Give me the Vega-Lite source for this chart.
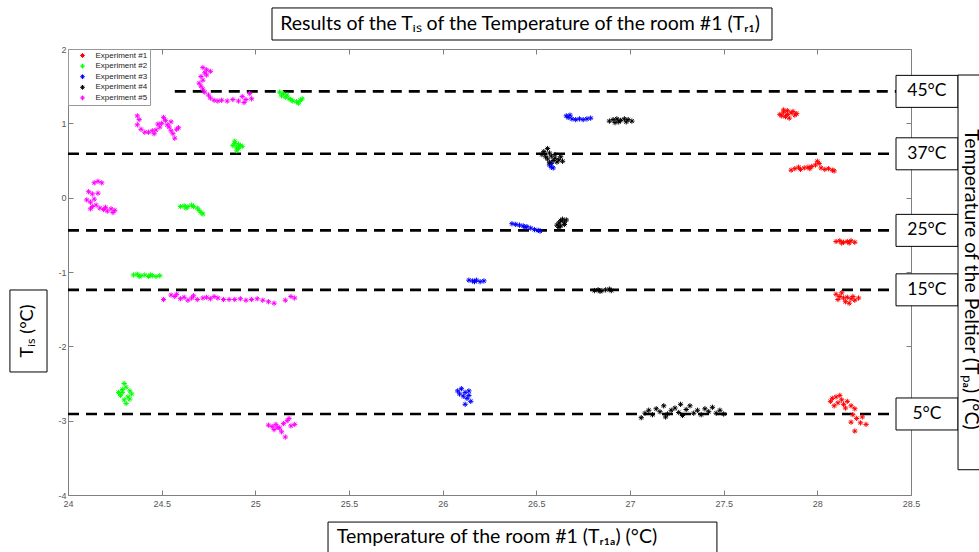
{
"$schema": "https://vega.github.io/schema/vega-lite/v6.json",
"autosize": "none",
"width": 843,
"height": 446,
"padding": {"left": 68, "top": 49, "right": 68, "bottom": 57},
"background": "white",
"config": {
  "view": {"stroke": null},
  "axis": {"domainColor": "#808080", "tickColor": "#808080", "labelColor": "#555555", "labelFont": "Liberation Sans", "labelFontSize": 9, "grid": false, "tickSize": -5, "domainWidth": 1, "tickWidth": 1, "title": null}
},
"datasets": {
  "points": [
    {"t":27.80,"v":1.12,"e":1},{"t":27.82,"v":1.15,"e":1},{"t":27.84,"v":1.17,"e":1},{"t":27.86,"v":1.14,"e":1},{"t":27.88,"v":1.11,"e":1},{"t":27.83,"v":1.09,"e":1},{"t":27.85,"v":1.07,"e":1},{"t":27.81,"v":1.10,"e":1},{"t":27.87,"v":1.16,"e":1},{"t":27.84,"v":1.12,"e":1},{"t":27.89,"v":1.13,"e":1},{"t":27.82,"v":1.18,"e":1},
    {"t":27.86,"v":0.37,"e":1},{"t":27.88,"v":0.39,"e":1},{"t":27.91,"v":0.38,"e":1},{"t":27.93,"v":0.40,"e":1},{"t":27.95,"v":0.41,"e":1},{"t":27.97,"v":0.42,"e":1},{"t":27.99,"v":0.44,"e":1},{"t":28.00,"v":0.49,"e":1},{"t":28.01,"v":0.46,"e":1},{"t":28.02,"v":0.40,"e":1},{"t":28.04,"v":0.38,"e":1},{"t":28.06,"v":0.39,"e":1},{"t":28.08,"v":0.37,"e":1},{"t":28.09,"v":0.36,"e":1},{"t":27.90,"v":0.41,"e":1},{"t":27.96,"v":0.39,"e":1},
    {"t":28.10,"v":-0.59,"e":1},{"t":28.12,"v":-0.58,"e":1},{"t":28.14,"v":-0.60,"e":1},{"t":28.16,"v":-0.59,"e":1},{"t":28.18,"v":-0.58,"e":1},{"t":28.20,"v":-0.60,"e":1},{"t":28.13,"v":-0.61,"e":1},{"t":28.17,"v":-0.61,"e":1},
    {"t":28.10,"v":-1.30,"e":1},{"t":28.12,"v":-1.33,"e":1},{"t":28.14,"v":-1.35,"e":1},{"t":28.11,"v":-1.37,"e":1},{"t":28.16,"v":-1.34,"e":1},{"t":28.18,"v":-1.36,"e":1},{"t":28.20,"v":-1.38,"e":1},{"t":28.15,"v":-1.40,"e":1},{"t":28.19,"v":-1.33,"e":1},{"t":28.22,"v":-1.35,"e":1},{"t":28.17,"v":-1.42,"e":1},{"t":28.13,"v":-1.28,"e":1},
    {"t":28.07,"v":-2.74,"e":1},{"t":28.08,"v":-2.70,"e":1},{"t":28.10,"v":-2.68,"e":1},{"t":28.11,"v":-2.76,"e":1},{"t":28.13,"v":-2.72,"e":1},{"t":28.09,"v":-2.80,"e":1},{"t":28.14,"v":-2.78,"e":1},{"t":28.16,"v":-2.74,"e":1},{"t":28.18,"v":-2.80,"e":1},{"t":28.12,"v":-2.66,"e":1},{"t":28.20,"v":-2.84,"e":1},{"t":28.15,"v":-2.83,"e":1},
    {"t":28.19,"v":-2.92,"e":1},{"t":28.21,"v":-2.97,"e":1},{"t":28.23,"v":-3.03,"e":1},{"t":28.20,"v":-3.14,"e":1},{"t":28.24,"v":-2.95,"e":1},{"t":28.18,"v":-3.02,"e":1},{"t":28.26,"v":-3.05,"e":1},

    {"t":24.27,"v":-2.62,"e":2},{"t":24.29,"v":-2.58,"e":2},{"t":24.31,"v":-2.55,"e":2},{"t":24.30,"v":-2.50,"e":2},{"t":24.33,"v":-2.60,"e":2},{"t":24.28,"v":-2.66,"e":2},{"t":24.32,"v":-2.68,"e":2},{"t":24.34,"v":-2.64,"e":2},{"t":24.30,"v":-2.72,"e":2},{"t":24.31,"v":-2.77,"e":2},{"t":24.33,"v":-2.71,"e":2},{"t":24.29,"v":-2.62,"e":2},
    {"t":24.35,"v":-1.04,"e":2},{"t":24.37,"v":-1.03,"e":2},{"t":24.39,"v":-1.05,"e":2},{"t":24.41,"v":-1.04,"e":2},{"t":24.43,"v":-1.06,"e":2},{"t":24.45,"v":-1.05,"e":2},{"t":24.47,"v":-1.06,"e":2},{"t":24.49,"v":-1.05,"e":2},{"t":24.38,"v":-1.06,"e":2},{"t":24.44,"v":-1.04,"e":2},
    {"t":24.60,"v":-0.12,"e":2},{"t":24.62,"v":-0.11,"e":2},{"t":24.64,"v":-0.12,"e":2},{"t":24.66,"v":-0.10,"e":2},{"t":24.67,"v":-0.12,"e":2},{"t":24.69,"v":-0.14,"e":2},{"t":24.70,"v":-0.17,"e":2},{"t":24.71,"v":-0.20,"e":2},{"t":24.72,"v":-0.22,"e":2},{"t":24.63,"v":-0.14,"e":2},
    {"t":24.88,"v":0.70,"e":2},{"t":24.89,"v":0.73,"e":2},{"t":24.90,"v":0.68,"e":2},{"t":24.91,"v":0.66,"e":2},{"t":24.92,"v":0.70,"e":2},{"t":24.90,"v":0.63,"e":2},{"t":24.93,"v":0.69,"e":2},{"t":24.89,"v":0.76,"e":2},{"t":24.91,"v":0.72,"e":2},
    {"t":25.13,"v":1.42,"e":2},{"t":25.15,"v":1.40,"e":2},{"t":25.14,"v":1.37,"e":2},{"t":25.16,"v":1.35,"e":2},{"t":25.18,"v":1.33,"e":2},{"t":25.17,"v":1.38,"e":2},{"t":25.20,"v":1.30,"e":2},{"t":25.22,"v":1.29,"e":2},{"t":25.24,"v":1.31,"e":2},{"t":25.25,"v":1.33,"e":2},{"t":25.23,"v":1.27,"e":2},{"t":25.19,"v":1.32,"e":2},

    {"t":26.08,"v":-2.60,"e":3},{"t":26.10,"v":-2.57,"e":3},{"t":26.12,"v":-2.62,"e":3},{"t":26.14,"v":-2.60,"e":3},{"t":26.11,"v":-2.67,"e":3},{"t":26.13,"v":-2.70,"e":3},{"t":26.15,"v":-2.74,"e":3},{"t":26.12,"v":-2.78,"e":3},{"t":26.09,"v":-2.64,"e":3},{"t":26.14,"v":-2.66,"e":3},
    {"t":26.14,"v":-1.11,"e":3},{"t":26.16,"v":-1.12,"e":3},{"t":26.18,"v":-1.11,"e":3},{"t":26.20,"v":-1.13,"e":3},{"t":26.22,"v":-1.12,"e":3},{"t":26.17,"v":-1.13,"e":3},
    {"t":26.37,"v":-0.35,"e":3},{"t":26.39,"v":-0.36,"e":3},{"t":26.41,"v":-0.37,"e":3},{"t":26.43,"v":-0.38,"e":3},{"t":26.45,"v":-0.39,"e":3},{"t":26.47,"v":-0.41,"e":3},{"t":26.49,"v":-0.43,"e":3},{"t":26.51,"v":-0.44,"e":3},{"t":26.52,"v":-0.45,"e":3},{"t":26.44,"v":-0.40,"e":3},
    {"t":26.57,"v":0.44,"e":3},{"t":26.58,"v":0.41,"e":3},{"t":26.59,"v":0.40,"e":3},{"t":26.58,"v":0.46,"e":3},
    {"t":26.66,"v":1.10,"e":3},{"t":26.67,"v":1.08,"e":3},{"t":26.69,"v":1.06,"e":3},{"t":26.71,"v":1.05,"e":3},{"t":26.73,"v":1.06,"e":3},{"t":26.75,"v":1.05,"e":3},{"t":26.77,"v":1.06,"e":3},{"t":26.79,"v":1.07,"e":3},{"t":26.68,"v":1.11,"e":3},

    {"t":27.06,"v":-2.96,"e":4},{"t":27.08,"v":-2.90,"e":4},{"t":27.10,"v":-2.86,"e":4},{"t":27.12,"v":-2.92,"e":4},{"t":27.14,"v":-2.84,"e":4},{"t":27.16,"v":-2.88,"e":4},{"t":27.18,"v":-2.80,"e":4},{"t":27.20,"v":-2.91,"e":4},{"t":27.22,"v":-2.86,"e":4},{"t":27.24,"v":-2.83,"e":4},{"t":27.26,"v":-2.89,"e":4},{"t":27.28,"v":-2.93,"e":4},{"t":27.30,"v":-2.85,"e":4},{"t":27.32,"v":-2.80,"e":4},{"t":27.34,"v":-2.90,"e":4},{"t":27.36,"v":-2.86,"e":4},{"t":27.38,"v":-2.92,"e":4},{"t":27.40,"v":-2.84,"e":4},{"t":27.42,"v":-2.88,"e":4},{"t":27.44,"v":-2.82,"e":4},{"t":27.46,"v":-2.90,"e":4},{"t":27.48,"v":-2.86,"e":4},{"t":27.50,"v":-2.91,"e":4},{"t":27.19,"v":-2.95,"e":4},{"t":27.27,"v":-2.78,"e":4},
    {"t":26.81,"v":-1.25,"e":4},{"t":26.83,"v":-1.24,"e":4},{"t":26.85,"v":-1.25,"e":4},{"t":26.87,"v":-1.24,"e":4},{"t":26.89,"v":-1.23,"e":4},{"t":26.90,"v":-1.25,"e":4},{"t":26.84,"v":-1.26,"e":4},
    {"t":26.61,"v":-0.37,"e":4},{"t":26.62,"v":-0.34,"e":4},{"t":26.63,"v":-0.31,"e":4},{"t":26.64,"v":-0.29,"e":4},{"t":26.65,"v":-0.33,"e":4},{"t":26.66,"v":-0.30,"e":4},{"t":26.63,"v":-0.38,"e":4},{"t":26.62,"v":-0.40,"e":4},{"t":26.65,"v":-0.36,"e":4},
    {"t":26.53,"v":0.58,"e":4},{"t":26.54,"v":0.62,"e":4},{"t":26.55,"v":0.55,"e":4},{"t":26.56,"v":0.52,"e":4},{"t":26.57,"v":0.60,"e":4},{"t":26.58,"v":0.56,"e":4},{"t":26.59,"v":0.50,"e":4},{"t":26.60,"v":0.53,"e":4},{"t":26.61,"v":0.48,"e":4},{"t":26.62,"v":0.51,"e":4},{"t":26.63,"v":0.55,"e":4},{"t":26.64,"v":0.49,"e":4},{"t":26.57,"v":0.47,"e":4},{"t":26.56,"v":0.66,"e":4},{"t":26.60,"v":0.58,"e":4},
    {"t":26.89,"v":1.03,"e":4},{"t":26.91,"v":1.05,"e":4},{"t":26.93,"v":1.06,"e":4},{"t":26.95,"v":1.04,"e":4},{"t":26.97,"v":1.06,"e":4},{"t":26.99,"v":1.05,"e":4},{"t":27.01,"v":1.03,"e":4},{"t":26.94,"v":1.02,"e":4},{"t":26.98,"v":1.02,"e":4},{"t":26.92,"v":1.01,"e":4},

    {"t":24.14,"v":0.20,"e":5},{"t":24.16,"v":0.22,"e":5},{"t":24.18,"v":0.20,"e":5},{"t":24.11,"v":0.08,"e":5},{"t":24.13,"v":0.05,"e":5},{"t":24.10,"v":-0.03,"e":5},{"t":24.12,"v":-0.06,"e":5},{"t":24.14,"v":-0.02,"e":5},{"t":24.15,"v":-0.10,"e":5},{"t":24.13,"v":-0.12,"e":5},{"t":24.17,"v":-0.14,"e":5},{"t":24.19,"v":-0.16,"e":5},{"t":24.21,"v":-0.18,"e":5},{"t":24.23,"v":-0.15,"e":5},{"t":24.25,"v":-0.17,"e":5},{"t":24.20,"v":-0.13,"e":5},{"t":24.16,"v":0.06,"e":5},{"t":24.12,"v":-0.15,"e":5},{"t":24.24,"v":-0.20,"e":5},
    {"t":24.37,"v":1.10,"e":5},{"t":24.38,"v":1.05,"e":5},{"t":24.37,"v":0.98,"e":5},{"t":24.39,"v":0.92,"e":5},{"t":24.41,"v":0.88,"e":5},{"t":24.43,"v":0.88,"e":5},{"t":24.45,"v":0.90,"e":5},{"t":24.47,"v":0.91,"e":5},{"t":24.49,"v":0.95,"e":5},{"t":24.50,"v":1.00,"e":5},{"t":24.52,"v":1.04,"e":5},{"t":24.53,"v":0.98,"e":5},{"t":24.54,"v":0.95,"e":5},{"t":24.55,"v":0.90,"e":5},{"t":24.56,"v":0.86,"e":5},{"t":24.57,"v":0.80,"e":5},{"t":24.58,"v":0.92,"e":5},{"t":24.51,"v":1.08,"e":5},{"t":24.48,"v":0.99,"e":5},{"t":24.55,"v":1.02,"e":5},{"t":24.59,"v":0.94,"e":5},{"t":24.46,"v":0.86,"e":5},
    {"t":24.72,"v":1.75,"e":5},{"t":24.74,"v":1.72,"e":5},{"t":24.73,"v":1.68,"e":5},{"t":24.71,"v":1.63,"e":5},{"t":24.72,"v":1.58,"e":5},{"t":24.70,"v":1.54,"e":5},{"t":24.71,"v":1.50,"e":5},{"t":24.72,"v":1.46,"e":5},{"t":24.73,"v":1.42,"e":5},{"t":24.75,"v":1.38,"e":5},{"t":24.74,"v":1.65,"e":5},{"t":24.76,"v":1.70,"e":5},
    {"t":24.76,"v":1.34,"e":5},{"t":24.78,"v":1.31,"e":5},{"t":24.80,"v":1.30,"e":5},{"t":24.82,"v":1.31,"e":5},{"t":24.85,"v":1.30,"e":5},{"t":24.88,"v":1.32,"e":5},{"t":24.91,"v":1.30,"e":5},{"t":24.93,"v":1.36,"e":5},{"t":24.95,"v":1.32,"e":5},{"t":24.97,"v":1.40,"e":5},{"t":24.98,"v":1.33,"e":5},{"t":24.94,"v":1.28,"e":5},
    {"t":24.51,"v":-1.37,"e":5},{"t":24.55,"v":-1.31,"e":5},{"t":24.57,"v":-1.33,"e":5},{"t":24.60,"v":-1.36,"e":5},{"t":24.62,"v":-1.34,"e":5},{"t":24.64,"v":-1.38,"e":5},{"t":24.66,"v":-1.35,"e":5},{"t":24.69,"v":-1.37,"e":5},{"t":24.72,"v":-1.35,"e":5},{"t":24.74,"v":-1.34,"e":5},{"t":24.76,"v":-1.36,"e":5},{"t":24.78,"v":-1.33,"e":5},{"t":24.80,"v":-1.35,"e":5},{"t":24.83,"v":-1.37,"e":5},{"t":24.86,"v":-1.37,"e":5},{"t":24.89,"v":-1.37,"e":5},{"t":24.92,"v":-1.36,"e":5},{"t":24.95,"v":-1.38,"e":5},{"t":24.98,"v":-1.37,"e":5},{"t":25.01,"v":-1.36,"e":5},{"t":25.04,"v":-1.38,"e":5},{"t":25.07,"v":-1.40,"e":5},{"t":25.10,"v":-1.42,"e":5},{"t":25.16,"v":-1.38,"e":5},{"t":25.19,"v":-1.33,"e":5},{"t":25.21,"v":-1.35,"e":5},{"t":24.58,"v":-1.30,"e":5},{"t":24.67,"v":-1.32,"e":5},
    {"t":25.07,"v":-3.06,"e":5},{"t":25.09,"v":-3.08,"e":5},{"t":25.11,"v":-3.05,"e":5},{"t":25.13,"v":-3.10,"e":5},{"t":25.15,"v":-3.04,"e":5},{"t":25.17,"v":-3.00,"e":5},{"t":25.19,"v":-3.07,"e":5},{"t":25.21,"v":-3.05,"e":5},{"t":25.10,"v":-3.12,"e":5},{"t":25.14,"v":-3.15,"e":5},{"t":25.16,"v":-3.22,"e":5},{"t":25.12,"v":-3.09,"e":5},{"t":25.18,"v":-2.97,"e":5}
  ],
  "lines": [
    {"v": 1.43, "start": 24.57, "label": "45°C"},
    {"v": 0.59, "start": 24, "label": "37°C"},
    {"v": -0.44, "start": 24, "label": "25°C"},
    {"v": -1.24, "start": 24, "label": "15°C"},
    {"v": -2.91, "start": 24, "label": "5°C"}
  ]
},
"layer": [
  {
    "data": {"name": "lines"},
    "mark": {"type": "rule", "strokeDash": [11, 7], "strokeWidth": 2.6, "color": "black"},
    "encoding": {
      "x": {"field": "start", "type": "quantitative", "scale": {"domain": [24, 28.5], "nice": false, "zero": false},
            "axis": {"orient": "top", "labels": false, "domain": true, "values": [24, 24.5, 25, 25.5, 26, 26.5, 27, 27.5, 28, 28.5]}},
      "x2": {"datum": 28.42},
      "y": {"field": "v", "type": "quantitative", "scale": {"domain": [-4, 2], "nice": false, "zero": false},
            "axis": {"orient": "right", "labels": false, "values": [-4, -3, -2, -1, 0, 1, 2]}}
    }
  },
  {
    "data": {"name": "points"},
    "mark": {"type": "point", "shape": "M-1,0L1,0M0,-1L0,1M-0.7,-0.7L0.7,0.7M-0.7,0.7L0.7,-0.7", "filled": false, "size": 28, "strokeWidth": 1, "opacity": 1},
    "encoding": {
      "x": {"field": "t", "type": "quantitative", "scale": {"domain": [24, 28.5], "nice": false, "zero": false},
            "axis": {"orient": "bottom", "values": [24, 24.5, 25, 25.5, 26, 26.5, 27, 27.5, 28, 28.5], "labelExpr": "datum.value", "labelPadding": 9, "labelFlush": false}},
      "y": {"field": "v", "type": "quantitative", "scale": {"domain": [-4, 2], "nice": false, "zero": false},
            "axis": {"orient": "left", "values": [-4, -3, -2, -1, 0, 1, 2], "labelExpr": "datum.value", "labelPadding": 7, "labelFlush": false}},
      "color": {"field": "e", "type": "nominal",
                "scale": {"domain": [1, 2, 3, 4, 5], "range": ["#ff0000", "#00ff00", "#0000ff", "#000000", "#ff00ff"]},
                "legend": {"orient": "top-left", "offset": 0, "title": null, "labelExpr": "'Experiment #' + datum.label",
                           "labelFont": "Liberation Sans", "labelFontSize": 8, "labelColor": "#222222",
                           "symbolSize": 22, "symbolStrokeWidth": 1, "symbolOffset": 8, "labelOffset": 9, "rowPadding": 0.6,
                           "padding": 2.5, "strokeColor": "#999999", "fillColor": "white", "cornerRadius": 0}}
    }
  },
  {
    "data": {"name": "lines"},
    "mark": {"type": "rect", "fill": "white", "stroke": "black", "strokeWidth": 1, "yOffset": -16, "y2Offset": 16},
    "encoding": {
      "x": {"datum": 28.42, "type": "quantitative", "axis": null},
      "x2": {"datum": 28.751},
      "y": {"field": "v", "type": "quantitative", "axis": null},
      "y2": {"field": "v"}
    }
  },
  {
    "data": {"name": "lines"},
    "mark": {"type": "text", "font": "Lato", "fontSize": 17.5, "color": "black", "align": "center", "baseline": "middle"},
    "encoding": {
      "x": {"datum": 28.585, "type": "quantitative", "axis": null},
      "y": {"field": "v", "type": "quantitative", "axis": null},
      "text": {"field": "label"}
    }
  },
  {
    "data": {"values": [{}]},
    "mark": {"type": "rect", "fill": "white", "stroke": "black", "strokeWidth": 1},
    "encoding": {"x": {"datum": 25.089, "type": "quantitative", "axis": null}, "x2": {"datum": 27.758}, "y": {"datum": 2.552, "type": "quantitative", "axis": null}, "y2": {"datum": 2.121}}
  },
  {
    "data": {"values": [{}]},
    "mark": {"type": "text", "font": "Lato", "fontSize": 19.5, "color": "black", "align": "center", "baseline": "middle", "text": "Results of the Tᵢₛ of the Temperature of the room #1 (Tᵣ₁)"},
    "encoding": {"x": {"datum": 26.413, "type": "quantitative", "axis": null}, "y": {"datum": 2.336, "type": "quantitative", "axis": null}}
  },
  {
    "data": {"values": [{}]},
    "mark": {"type": "rect", "fill": "white", "stroke": "black", "strokeWidth": 1},
    "encoding": {"x": {"datum": 25.388, "type": "quantitative", "axis": null}, "x2": {"datum": 27.464}, "y": {"datum": -4.364, "type": "quantitative", "axis": null}, "y2": {"datum": -4.95}}
  },
  {
    "data": {"values": [{}]},
    "mark": {"type": "text", "font": "Lato", "fontSize": 19.5, "color": "black", "align": "center", "baseline": "middle", "text": "Temperature of the room #1 (Tᵣ₁ₐ) (°C)"},
    "encoding": {"x": {"datum": 26.29, "type": "quantitative", "axis": null}, "y": {"datum": -4.56, "type": "quantitative", "axis": null}}
  },
  {
    "data": {"values": [{}]},
    "mark": {"type": "rect", "fill": "white", "stroke": "black", "strokeWidth": 1},
    "encoding": {"x": {"datum": 23.69, "type": "quantitative", "axis": null}, "x2": {"datum": 23.888}, "y": {"datum": -1.242, "type": "quantitative", "axis": null}, "y2": {"datum": -2.345}}
  },
  {
    "data": {"values": [{}]},
    "mark": {"type": "text", "font": "Lato", "fontSize": 18, "color": "black", "align": "center", "baseline": "middle", "angle": 270, "text": "Tᵢₛ (°C)"},
    "encoding": {"x": {"datum": 23.789, "type": "quantitative", "axis": null}, "y": {"datum": -1.794, "type": "quantitative", "axis": null}}
  },
  {
    "data": {"values": [{}]},
    "mark": {"type": "rect", "fill": "white", "stroke": "black", "strokeWidth": 1},
    "encoding": {"x": {"datum": 28.751, "type": "quantitative", "axis": null}, "x2": {"datum": 28.99}, "y": {"datum": 1.65, "type": "quantitative", "axis": null}, "y2": {"datum": -3.66}}
  },
  {
    "data": {"values": [{}]},
    "mark": {"type": "text", "font": "Lato", "fontSize": 19.5, "color": "black", "align": "center", "baseline": "middle", "angle": 90, "text": "Temperature of the Peltier (Tₚₐ) (°C)"},
    "encoding": {"x": {"datum": 28.818, "type": "quantitative", "axis": null}, "y": {"datum": -1.1, "type": "quantitative", "axis": null}}
  }
]
}
